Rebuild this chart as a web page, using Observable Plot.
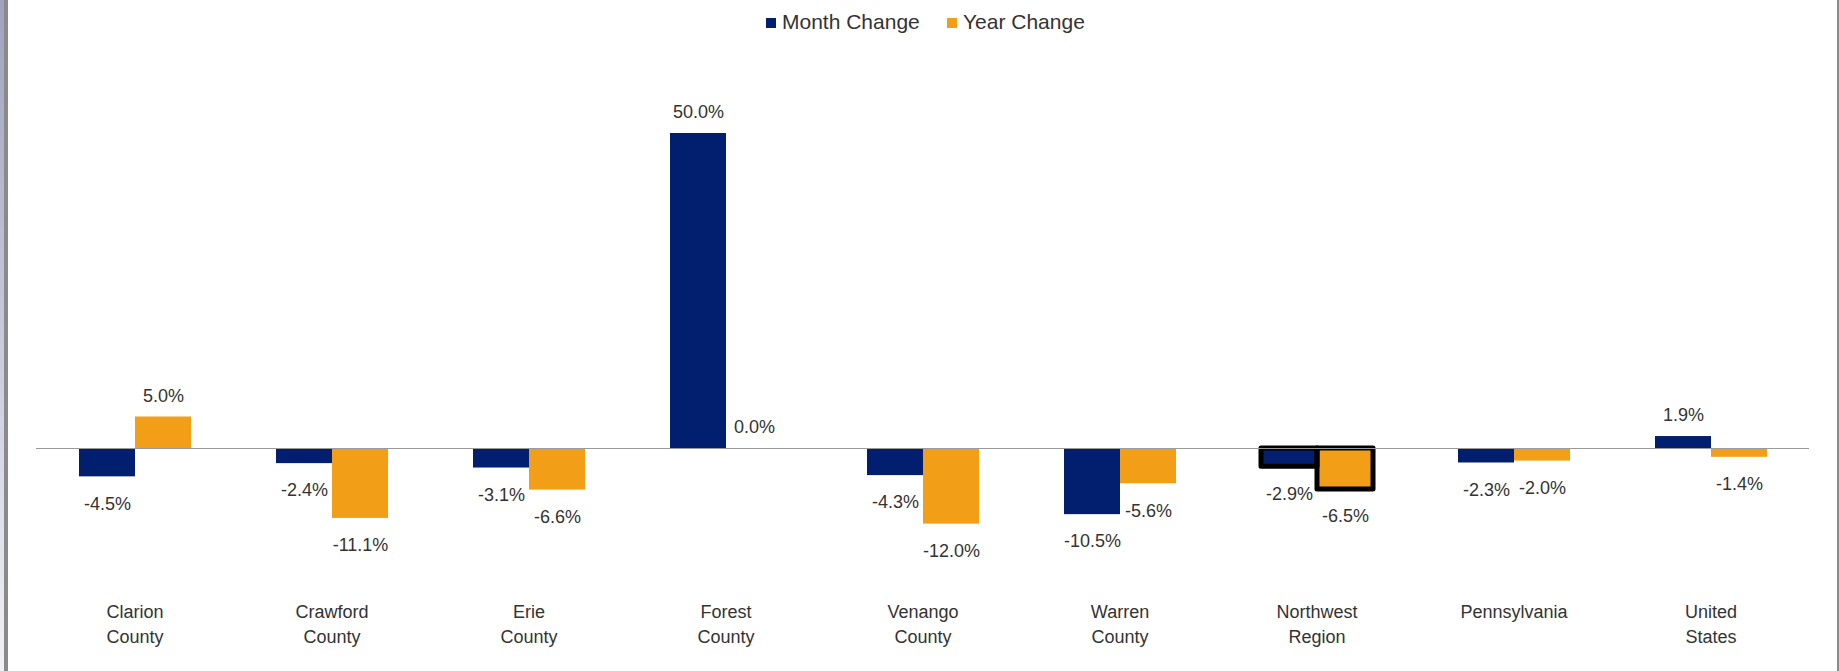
<!DOCTYPE html>
<html>
<head>
<meta charset="utf-8">
<script src="https://cdn.jsdelivr.net/npm/d3@7"></script>
<script src="https://cdn.jsdelivr.net/npm/@observablehq/plot@0.6"></script>
<style>
  html, body { margin: 0; padding: 0; background: #fff; }
  body { width: 1839px; height: 671px; position: relative; overflow: hidden; font-family: "Liberation Sans", Arial, sans-serif; }
  #edgeL1 { position: absolute; left: 0; top: 0; width: 4px; height: 671px; background: linear-gradient(#9ea2bf, #f2f2f5); }
  #edgeL2 { position: absolute; left: 4px; top: 0; width: 4px; height: 671px; background: #8a8a8a; }
  #edgeR { position: absolute; left: 1837px; top: 0; width: 2px; height: 671px; background: #8a8a8a; }
  #legend { position: absolute; left: 0; top: 0; width: 1839px; height: 45px; }
  .sw { position: absolute; top: 18px; width: 10px; height: 10px; }
  .lt { position: absolute; top: 9px; font-size: 21px; line-height: 26px; color: #333; white-space: nowrap; }
  #chart { position: absolute; left: 0; top: 45px; }
</style>
</head>
<body>
<div id="edgeL1"></div><div id="edgeL2"></div><div id="edgeR"></div>
<div id="legend"></div>
<div id="chart"></div>
<script>
const categories = ["Clarion County","Crawford County","Erie County","Forest County","Venango County","Warren County","Northwest Region","Pennsylvania","United States"];
const tickLabels = ["Clarion\nCounty","Crawford\nCounty","Erie\nCounty","Forest\nCounty","Venango\nCounty","Warren\nCounty","Northwest\nRegion","Pennsylvania","United\nStates"];
const monthChange = [-4.5, -2.4, -3.1, 50.0, -4.3, -10.5, -2.9, -2.3, 1.9];
const yearChange  = [5.0, -11.1, -6.6, 0.0, -12.0, -5.6, -6.5, -2.0, -1.4];
const series = ["Month Change", "Year Change"];
const colors = ["#021f6f", "#f39e17"];
const highlighted = ["Northwest Region"];

const data = [];
categories.forEach((c, i) => {
  data.push({cat: c, series: series[0], value: monthChange[i]});
  data.push({cat: c, series: series[1], value: yearChange[i]});
});
const labelMap = new Map(categories.map((c, i) => [c, tickLabels[i]]));
const fmt = v => v.toFixed(1) + "%";

// legend
const legend = document.getElementById("legend");
const legendPos = [[766, 782], [947, 963]];
series.forEach((s, i) => {
  const sw = document.createElement("div");
  sw.className = "sw"; sw.style.left = legendPos[i][0] + "px"; sw.style.background = colors[i];
  const t = document.createElement("div");
  t.className = "lt"; t.style.left = legendPos[i][1] + "px"; t.textContent = s;
  legend.appendChild(sw); legend.appendChild(t);
});

const chart = Plot.plot({
  width: 1839,
  height: 626,
  marginLeft: 33,
  marginRight: 28,
  marginTop: 56.5,
  marginBottom: 97,
  style: {fontFamily: "Liberation Sans, Arial, sans-serif", fontSize: "18px", color: "#333", background: "transparent"},
  fx: {domain: categories, padding: 0, label: null},
  x: {domain: series, paddingInner: 0, paddingOuter: 0.75, axis: null},
  y: {domain: [-20, 55], axis: null},
  color: {domain: series, range: colors},
  marks: [
    Plot.barY(data, {fx: "cat", x: "series", y: "value", fill: "series"}),
    Plot.barY(data.filter(d => highlighted.includes(d.cat)), {fx: "cat", x: "series", y: "value", fill: "none", stroke: "#000", strokeWidth: 5, strokeLinejoin: "round"}),
    Plot.ruleY([0], {stroke: "#9a9a9a", strokeWidth: 1}),
    Plot.text(data.filter(d => d.value >= 0), {fx: "cat", x: "series", y: "value", text: d => fmt(d.value), dy: -21, fontSize: 18, fill: "#333"}),
    Plot.text(data.filter(d => d.value < 0), {fx: "cat", x: "series", y: "value", text: d => fmt(d.value), dy: 27, fontSize: 18, fill: "#333"}),
    Plot.axisFx({anchor: "bottom", tickSize: 0, tickPadding: 25, lineHeight: 1.42, fontSize: 18, fill: "#333", label: null, tickFormat: d => labelMap.get(d)})
  ]
});
document.getElementById("chart").appendChild(chart);
</script>
</body>
</html>
